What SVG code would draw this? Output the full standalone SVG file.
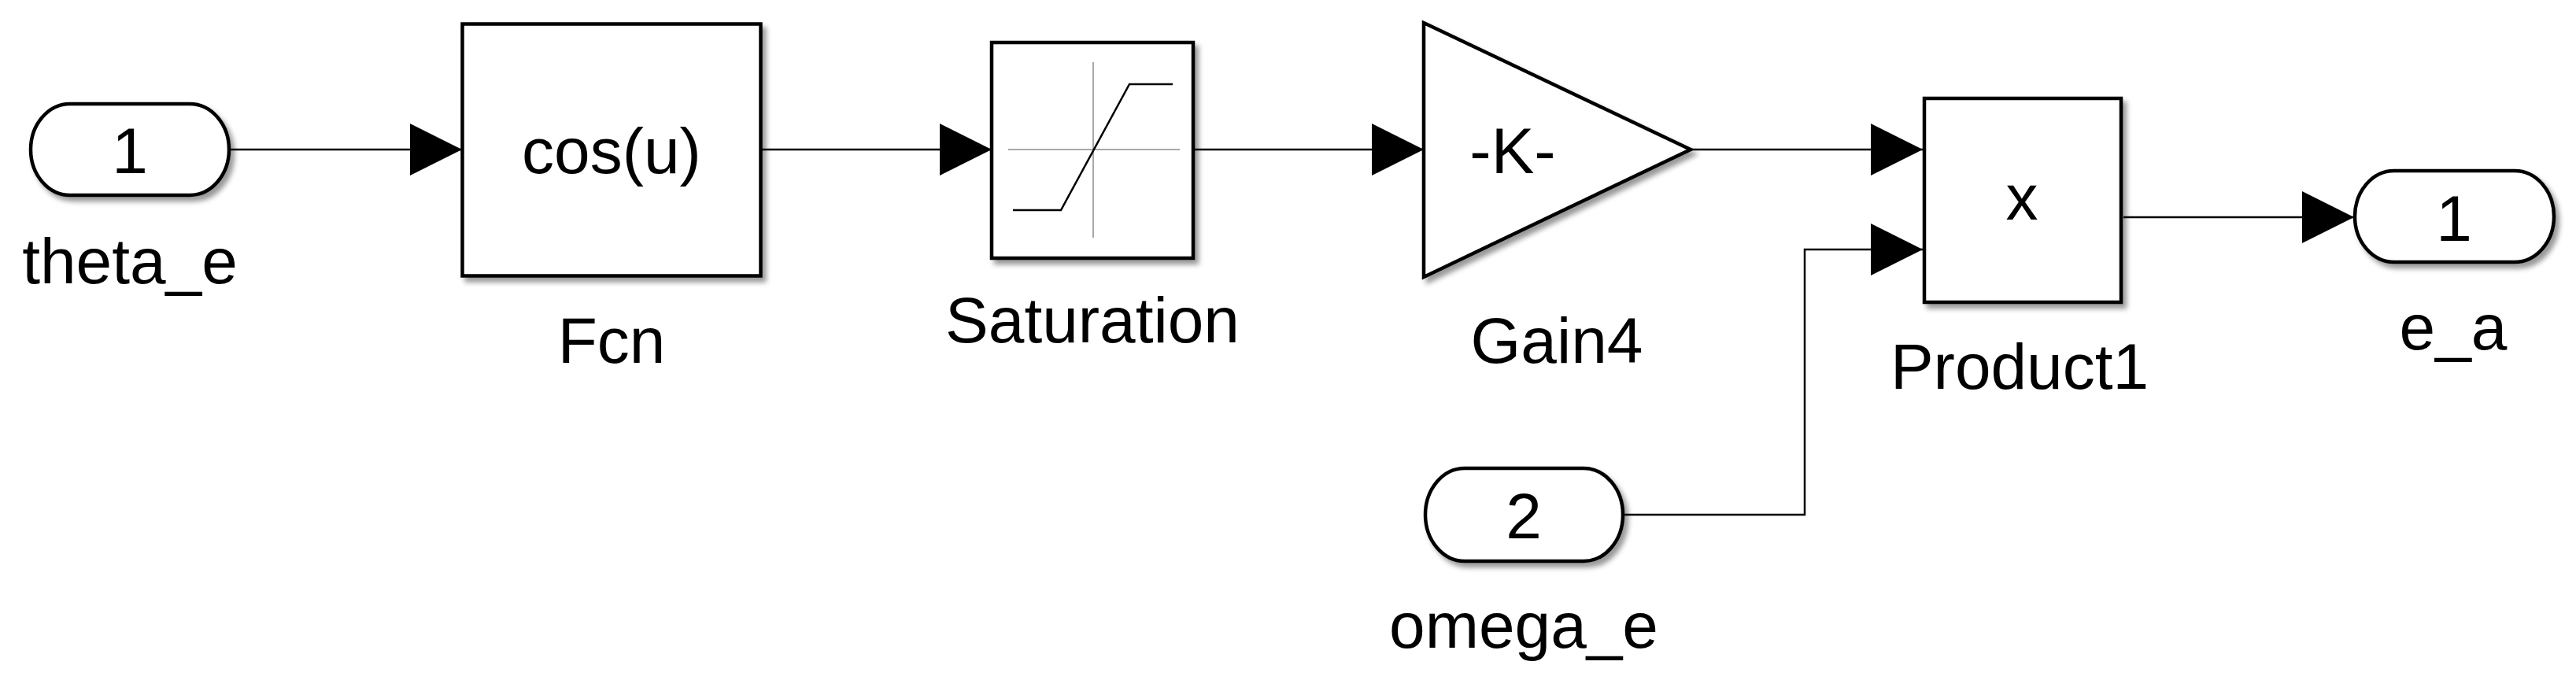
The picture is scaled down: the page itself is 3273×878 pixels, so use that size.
<svg xmlns="http://www.w3.org/2000/svg" width="3273" height="878" viewBox="0 0 3273 878">
<style>
  text { font-family: "Liberation Sans", Arial, sans-serif; font-size: 82px; fill: #000; text-anchor: middle; }
  .blk { fill: #fff; stroke: #000; stroke-width: 4.5; filter: url(#sh); }
  .wire { fill: none; stroke: #000; stroke-width: 2.5; }
  .grid { stroke: #a8a8a8; stroke-width: 2; fill: none; }
  .curve { stroke: #000; stroke-width: 2.5; fill: none; }
</style>
<defs>
  <filter id="sh" x="-10%" y="-10%" width="130%" height="130%">
    <feDropShadow dx="5" dy="6" stdDeviation="3" flood-color="#000" flood-opacity="0.4"/>
  </filter>
  <marker id="arr" markerUnits="userSpaceOnUse" markerWidth="66" markerHeight="66" refX="66" refY="33" orient="auto" viewBox="0 0 66 66">
    <path d="M0,0 L66,33 L0,66 Z" fill="#000"/>
  </marker>
</defs>
<rect width="3273" height="878" fill="#fff"/>

<g id="connectors">
  <path class="wire" d="M291,190 H587" marker-end="url(#arr)"/>
  <path class="wire" d="M967,190 H1260" marker-end="url(#arr)"/>
  <path class="wire" d="M1517,190 H1809" marker-end="url(#arr)"/>
  <path class="wire" d="M2149,190 H2443" marker-end="url(#arr)"/>
  <path class="wire" d="M2698,276 H2991" marker-end="url(#arr)"/>
  <path class="wire" d="M2062,654 H2293 V317 H2443" marker-end="url(#arr)"/>
</g>

<g id="theta_e">
  <rect class="blk" x="39" y="132" width="252" height="116" rx="50" ry="58"/>
  <text x="165" y="220">1</text>
  <text x="165" y="360">theta_e</text>
</g>

<g id="Fcn">
  <rect class="blk" x="587.5" y="30.5" width="379" height="320"/>
  <text x="777" y="220">cos(u)</text>
  <text x="777" y="461">Fcn</text>
</g>

<g id="Saturation">
  <rect class="blk" x="1260" y="54" width="256" height="274"/>
  <line class="grid" x1="1389" y1="79" x2="1389" y2="302"/>
  <line class="grid" x1="1281" y1="190" x2="1499" y2="190"/>
  <polyline class="curve" points="1287,267 1348,267 1435,107 1490,107"/>
  <text x="1388" y="435">Saturation</text>
</g>

<g id="Gain4">
  <polygon class="blk" points="1809,29 2148,190 1809,352"/>
  <text x="1922" y="220">-K-</text>
  <text x="1978" y="461">Gain4</text>
</g>

<g id="Product1">
  <rect class="blk" x="2445" y="125" width="250" height="259"/>
  <text x="2569" y="279">x</text>
  <text x="2566" y="494">Product1</text>
</g>

<g id="e_a">
  <rect class="blk" x="2992" y="217" width="253" height="116" rx="50" ry="58"/>
  <text x="3118" y="306">1</text>
  <text x="3117" y="444">e_a</text>
</g>

<g id="omega_e">
  <rect class="blk" x="1811" y="595" width="251" height="118" rx="50" ry="59"/>
  <text x="1936" y="684">2</text>
  <text x="1936" y="823">omega_e</text>
</g>
</svg>
